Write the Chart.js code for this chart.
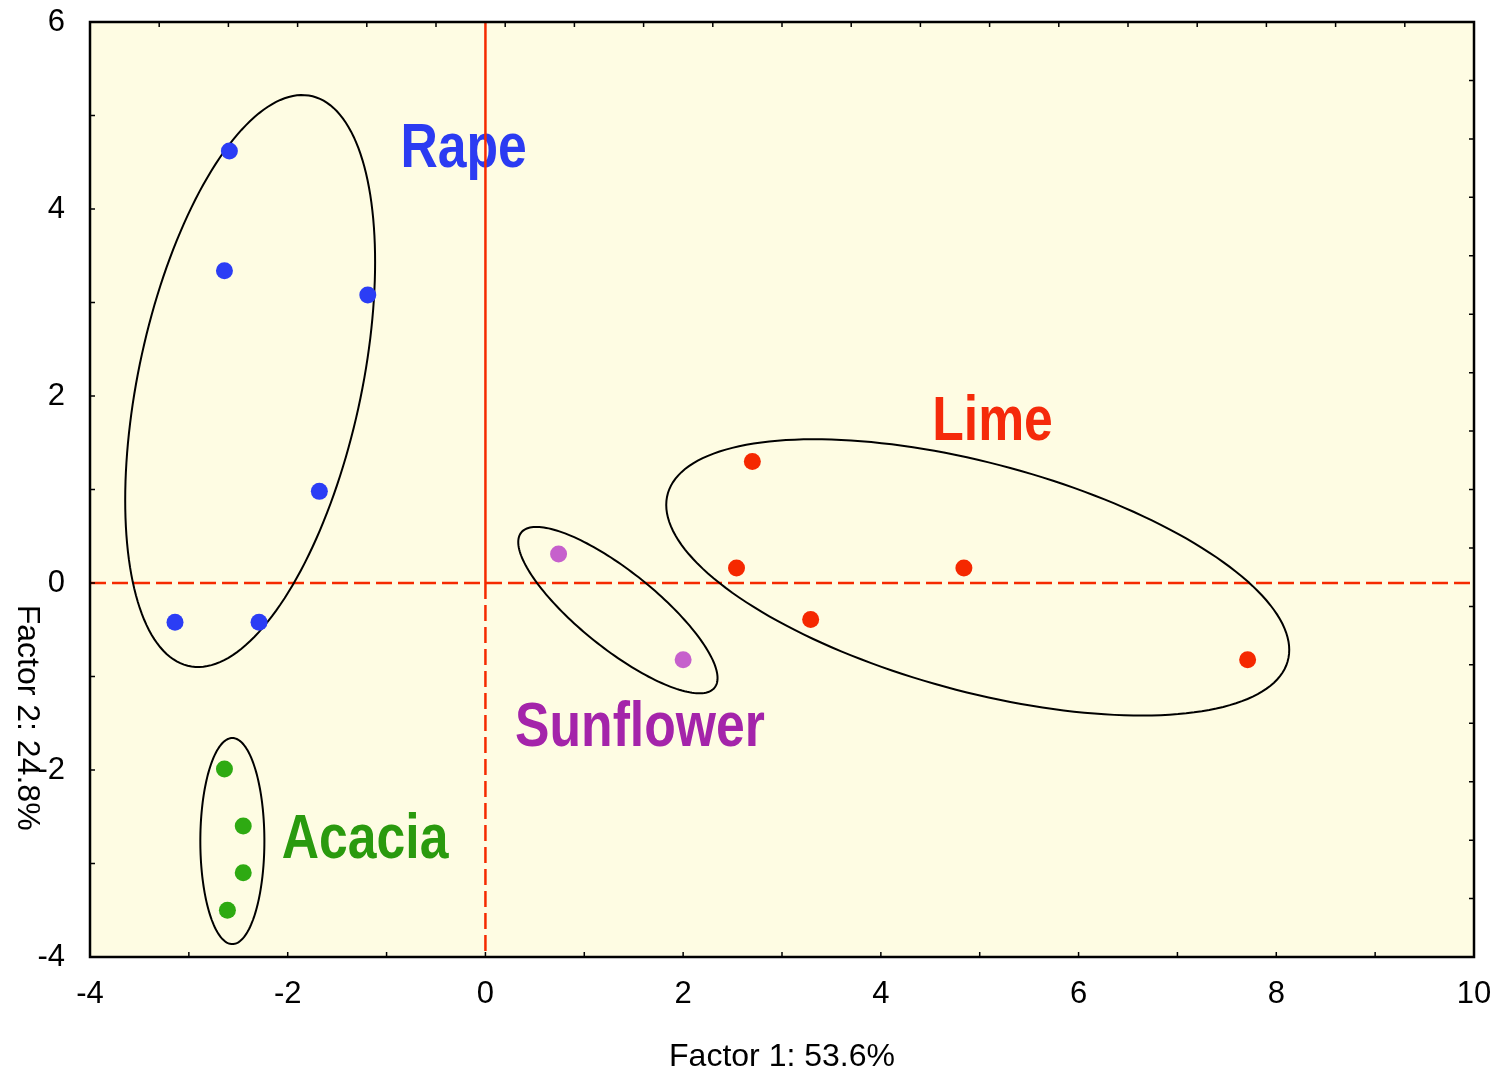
<!DOCTYPE html>
<html>
<head>
<meta charset="utf-8">
<title>Factor plot</title>
<script src="https://cdn.jsdelivr.net/npm/chart.js@4.4.1/dist/chart.umd.min.js"></script>
<style>
  html, body { margin: 0; padding: 0; background: #fff; }
  #wrap { width: 1501px; height: 1073px; position: relative; }
</style>
</head>
<body>
<div id="wrap"><canvas id="factorChart"></canvas></div>
<script>
// --- DATA (factor scores) ---

const rapeX = [-2.59, -2.64, -1.19, -1.68, -3.14, -2.29];
const rapeY = [4.62, 3.34, 3.08, 0.98, -0.42, -0.42];

const limeX = [2.70, 2.54, 4.84, 3.29, 7.71];
const limeY = [1.30, 0.16, 0.16, -0.39, -0.82];

const sunflowerX = [0.74, 2.00];
const sunflowerY = [0.31, -0.82];

const acaciaX = [-2.64, -2.45, -2.45, -2.61];
const acaciaY = [-1.99, -2.60, -3.10, -3.50];

// group labels + where they sit (data units)
const groupNames = ["Rape", "Lime", "Sunflower", "Acacia"];
const labelX = [-0.86, 4.52, 0.30, -2.06];
const labelY = [4.45, 1.53, -1.74, -2.94];

// group envelopes: centre, x-extreme offset (u) and vertical half height (h)
const ellCx = [-2.38, 4.98, 1.34, -2.56];
const ellCy = [2.16, 0.06, -0.29, -2.76];
const ellUx = [-1.264, -3.151, -1.008, -0.324];
const ellUy = [-1.273, 0.775, 0.727, 0];
const ellH = [2.781, 1.258, 0.513, 1.102];

const xTicks = [-4, -2, 0, 2, 4, 6, 8, 10];
const yTicks = [-4, -2, 0, 2, 4, 6];

const xTitle = "Factor 1: 53.6%";
const yTitle = "Factor 2: 24.8%";

const pointColors = ["#2b3df5", "#f52800", "#c660cc", "#2eaa12"];
const labelColors = ["#2b3bf2", "#f52a0a", "#a424aa", "#2a9a0e"];

const FONT = "'Liberation Sans', Arial, sans-serif";

function toPoints(xs, ys) {
  return xs.map((x, i) => ({ x: x, y: ys[i] }));
}

// --- PLUGIN: background, reference lines, ellipses, labels, frame ---

const decorPlugin = {
  id: "decor",
  beforeDatasetsDraw(chart) {
    const { ctx, chartArea: a, scales: { x, y } } = chart;
    ctx.save();
    ctx.fillStyle = "#fefce3";
    ctx.fillRect(a.left, a.top, a.right - a.left, a.bottom - a.top);

    // group names (sit under the red lines)
    groupNames.forEach((name, i) => {
      ctx.save();
      ctx.translate(x.getPixelForValue(labelX[i]), y.getPixelForValue(labelY[i]));
      ctx.scale(0.82, 1);
      ctx.font = "bold 63px " + FONT;
      ctx.fillStyle = labelColors[i];
      ctx.textAlign = "left";
      ctx.textBaseline = "alphabetic";
      ctx.fillText(name, 0, 0);
      ctx.restore();
    });

    // red reference lines through the origin
    const x0 = x.getPixelForValue(0);
    const y0 = y.getPixelForValue(0);
    ctx.strokeStyle = "#f52a00";
    ctx.lineWidth = 2.5;
    ctx.beginPath();
    ctx.moveTo(x0, a.top);
    ctx.lineTo(x0, y0);
    ctx.stroke();
    ctx.setLineDash([16, 6]);
    ctx.beginPath();
    ctx.moveTo(x0, y0);
    ctx.lineTo(x0, a.bottom);
    ctx.moveTo(a.left, y0);
    ctx.lineTo(a.right, y0);
    ctx.stroke();
    ctx.setLineDash([]);

    // ellipses around each group
    ctx.strokeStyle = "#000";
    ctx.lineWidth = 2;
    ellCx.forEach((cx, i) => {
      ctx.beginPath();
      for (let k = 0; k <= 180; k++) {
        const t = (k / 180) * Math.PI * 2;
        const dx = cx + ellUx[i] * Math.cos(t);
        const dy = ellCy[i] + ellUy[i] * Math.cos(t) + ellH[i] * Math.sin(t);
        const px = x.getPixelForValue(dx);
        const py = y.getPixelForValue(dy);
        if (k === 0) ctx.moveTo(px, py);
        else ctx.lineTo(px, py);
      }
      ctx.closePath();
      ctx.stroke();
    });
    ctx.restore();
  },
  afterDraw(chart) {
    const { ctx, chartArea: a, scales: { x, y } } = chart;
    ctx.save();
    ctx.strokeStyle = "#000";
    ctx.lineWidth = 1.5;
    const tl = 5;
    ctx.beginPath();
    // bottom + left: every unit
    for (let v = -4; v <= 10; v++) {
      const px = x.getPixelForValue(v);
      ctx.moveTo(px, a.bottom);
      ctx.lineTo(px, a.bottom - tl);
    }
    for (let v = -4; v <= 6; v++) {
      const py = y.getPixelForValue(v);
      ctx.moveTo(a.left, py);
      ctx.lineTo(a.left + tl, py);
    }
    // top: 20 divisions, right: 16 divisions
    for (let k = 0; k <= 20; k++) {
      const px = x.getPixelForValue(-4 + k * 0.7);
      ctx.moveTo(px, a.top);
      ctx.lineTo(px, a.top + tl);
    }
    for (let k = 0; k <= 16; k++) {
      const py = y.getPixelForValue(-4 + k * 0.625);
      ctx.moveTo(a.right, py);
      ctx.lineTo(a.right - tl, py);
    }
    ctx.stroke();

    // frame
    ctx.lineWidth = 2.5;
    ctx.strokeRect(a.left, a.top, a.right - a.left, a.bottom - a.top);

    // axis titles
    ctx.fillStyle = "#000";
    ctx.font = "32px " + FONT;
    ctx.textAlign = "center";
    ctx.textBaseline = "middle";
    ctx.fillText(xTitle, (a.left + a.right) / 2, a.bottom + 100);

    ctx.translate(27, a.top + 0.744 * (a.bottom - a.top));
    ctx.rotate(Math.PI / 2);
    ctx.fillText(yTitle, 0, 0);
    ctx.restore();
  }
};

// --- CHART ---

const ctx = document.getElementById("factorChart").getContext("2d");
const datasets = [
  { label: "Rape", data: toPoints(rapeX, rapeY) },
  { label: "Lime", data: toPoints(limeX, limeY) },
  { label: "Sunflower", data: toPoints(sunflowerX, sunflowerY) },
  { label: "Acacia", data: toPoints(acaciaX, acaciaY) }
].map((d, i) => ({
  ...d,
  backgroundColor: pointColors[i],
  borderWidth: 0,
  pointRadius: 8.5,
  pointHoverRadius: 8.5
}));

new Chart(ctx, {
  type: "scatter",
  data: { datasets },
  options: {
    responsive: true,
    maintainAspectRatio: false,
    animation: false,
    devicePixelRatio: 1,
    layout: { padding: { top: 22, right: 27, left: 0, bottom: 0 } },
    plugins: {
      legend: { display: false },
      tooltip: { enabled: false }
    },
    scales: {
      x: {
        type: "linear",
        min: -4,
        max: 10,
        grid: { display: false },
        border: { display: false },
        afterBuildTicks: (s) => { s.ticks = xTicks.map(v => ({ value: v })); },
        afterFit: (s) => {
          s.height = 116;
          s.paddingLeft = 0;
          s.paddingRight = 0;
        },
        ticks: {
          color: "#000",
          padding: 11,
          maxRotation: 0,
          font: { family: FONT, size: 31 }
        }
      },
      y: {
        type: "linear",
        min: -4,
        max: 6,
        grid: { display: false },
        border: { display: false },
        afterBuildTicks: (s) => { s.ticks = yTicks.map(v => ({ value: v })); },
        afterFit: (s) => {
          s.width = 90;
          s.paddingTop = 0;
          s.paddingBottom = 0;
        },
        ticks: {
          color: "#000",
          padding: 17,
          font: { family: FONT, size: 31 }
        }
      }
    }
  },
  plugins: [decorPlugin]
});
</script>
</body>
</html>
